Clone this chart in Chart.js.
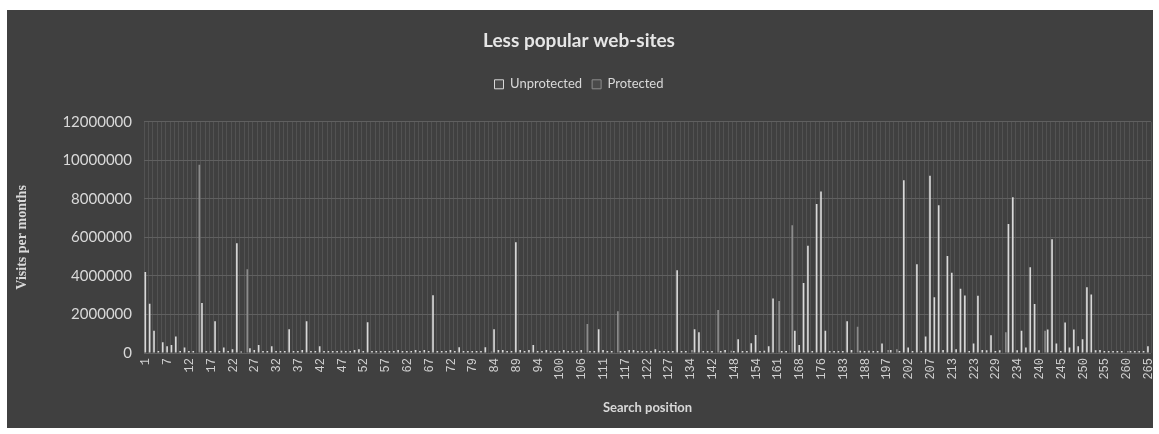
<!DOCTYPE html>
<html>
<head>
<meta charset="utf-8">
<title>Less popular web-sites</title>
<script src="https://cdn.jsdelivr.net/npm/chart.js@4.4.1/dist/chart.umd.min.js"></script>
<style>
  html, body { margin: 0; padding: 0; background: #ffffff; }
  #wrap { position: absolute; left: 7px; top: 10px; width: 1146px; height: 418px; background: #404040; }
</style>
</head>
<body>
<div id="wrap"><canvas id="chart"></canvas></div>
<script>
// search positions shown on the x axis (some positions are missing in the source)
const positions = [
  1, 2, 3, 5, 6, 7, 8, 9, 10, 11, 12, 13, 14, 15, 16, 17, 18, 19, 20, 21,
  22, 23, 24, 25, 26, 27, 28, 29, 30, 31, 32, 33, 34, 35, 36, 37, 38, 39, 40, 41,
  42, 43, 44, 45, 46, 47, 48, 49, 50, 51, 52, 53, 54, 55, 56, 57, 58, 59, 60, 61,
  62, 63, 64, 65, 66, 67, 68, 69, 70, 71, 72, 73, 74, 76, 77, 79, 80, 81, 82, 83,
  84, 85, 86, 87, 88, 89, 90, 91, 92, 93, 94, 95, 96, 98, 99, 100, 101, 102, 104, 105,
  106, 107, 108, 109, 110, 111, 112, 113, 115, 116, 117, 118, 119, 120, 121, 122, 123, 124, 125, 126,
  127, 128, 129, 131, 133, 134, 135, 137, 139, 141, 142, 143, 144, 146, 147, 148, 149, 150, 152, 153,
  154, 155, 156, 158, 160, 161, 162, 164, 165, 167, 168, 169, 171, 173, 175, 176, 177, 179, 180, 182,
  183, 184, 185, 186, 187, 188, 189, 191, 193, 196, 197, 198, 199, 200, 201, 202, 203, 204, 205, 206,
  207, 208, 209, 211, 212, 213, 214, 217, 220, 222, 223, 224, 225, 227, 228, 229, 230, 231, 232, 233,
  234, 235, 236, 238, 239, 240, 241, 242, 243, 244, 245, 246, 247, 248, 249, 250, 251, 252, 253, 254,
  255, 256, 257, 258, 259, 260, 261, 262, 263, 264, 265
];

// visits per month
const unprotected = [
  4200000, 2550000, 1150000, 100000, 560000, 350000, 420000, 850000, 100000, 280000,
  100000, 100000, null, 2600000, 100000, 100000, 1650000, 100000, 280000, 100000,
  200000, 5700000, 80000, null, 250000, 150000, 420000, 100000, 100000, 350000,
  100000, 100000, 100000, 1230000, 100000, 100000, 150000, 1650000, 100000, 100000,
  350000, 100000, 100000, 100000, 100000, 120000, 100000, 100000, 150000, 200000,
  100000, 1600000, 100000, 100000, 100000, 100000, 100000, 100000, 150000, 100000,
  100000, 100000, 150000, 100000, 150000, 100000, 3000000, 100000, 100000, 100000,
  150000, 100000, 300000, 100000, 100000, 100000, 100000, 100000, 300000, null,
  1230000, 150000, 150000, 100000, 100000, 5750000, 150000, 100000, 150000, 420000,
  100000, 100000, 150000, 100000, 100000, 100000, 150000, 100000, 100000, 100000,
  150000, null, 100000, 100000, 1230000, 150000, 100000, 100000, null, 100000,
  100000, 150000, 150000, 100000, 100000, 100000, 100000, 200000, 100000, 100000,
  100000, 100000, 4300000, 100000, 100000, null, 1230000, 1080000, 100000, 100000,
  100000, null, 100000, 150000, null, 100000, 710000, 100000, 100000, 500000,
  940000, 100000, 120000, 350000, 2830000, null, 100000, 100000, null, 1150000,
  420000, 3630000, 5570000, 100000, 7740000, 8380000, 1150000, 100000, 100000, 100000,
  100000, 1650000, 150000, null, 120000, 100000, 120000, 100000, 100000, 490000,
  null, 150000, null, 100000, 8970000, 280000, 100000, 4600000, 100000, 850000,
  9200000, 2900000, 7670000, 150000, 5030000, 4160000, 190000, 3340000, 2990000, 100000,
  490000, 2970000, 150000, 140000, 920000, 100000, 140000, null, 6700000, 8090000,
  140000, 1150000, 280000, 4450000, 2540000, 140000, null, 1220000, 5900000, 490000,
  100000, 1580000, 280000, 1220000, 350000, 710000, 3410000, 3040000, 140000, 150000,
  100000, 100000, 100000, 100000, 100000, null, 100000, 100000, 100000, 100000,
  350000
];

const protectedVisits = [
  null, null, null, null, null, null, null, null, null, null,
  null, null, 9770000, null, null, null, null, null, null, null,
  null, null, null, 4350000, null, null, null, null, null, null,
  null, null, null, null, null, null, null, null, null, null,
  null, null, null, null, null, null, null, null, null, null,
  null, null, null, null, null, null, null, null, null, null,
  null, null, null, null, null, null, null, null, null, null,
  null, null, null, null, null, null, null, null, null, 80000,
  null, null, null, null, null, null, null, null, null, null,
  null, null, null, null, null, null, null, null, null, null,
  null, 1500000, null, null, null, null, null, null, 2170000, null,
  null, null, null, null, null, null, null, null, null, null,
  null, null, null, null, null, 150000, null, null, null, null,
  null, 2230000, null, null, 120000, null, null, null, null, null,
  null, null, null, null, null, 2700000, null, null, 6630000, null,
  null, null, null, null, null, null, null, null, null, null,
  null, null, null, 1360000, null, null, null, null, null, null,
  150000, null, 190000, null, null, null, null, null, null, null,
  null, null, null, null, null, null, null, null, null, null,
  null, null, null, null, null, null, null, 1080000, null, null,
  null, null, null, null, null, null, 1150000, null, null, null,
  null, null, null, null, null, null, null, null, null, null,
  null, null, null, null, null, 100000, null, null, null, null,
  null
];

const yMax = 12000000;
const yStep = 2000000;
const labelEvery = 5;

// leave a gap under the legend, like the original
const legendGap = {
  id: "legendGap",
  beforeInit(chart) {
    const fit = chart.legend.fit;
    chart.legend.fit = function () {
      fit.bind(chart.legend)();
      this.height += 21;
    };
  },
};

Chart.defaults.font.family = "Lato, 'Noto Sans', sans-serif";
Chart.defaults.color = "#d9d9d9";

new Chart(document.getElementById("chart"), {
  type: "bar",
  data: {
    labels: positions.map(String),
    datasets: [
      {
        label: "Unprotected",
        data: unprotected,
        backgroundColor: "#d9d9d9",
        borderWidth: 0,
      },
      {
        label: "Protected",
        data: protectedVisits,
        backgroundColor: "#8c8c8c",
        borderWidth: 0,
      },
    ],
  },
  options: {
    responsive: true,
    maintainAspectRatio: false,
    animation: false,
    datasets: { bar: { categoryPercentage: 0.8, barPercentage: 0.95 } },
    layout: { padding: { right: 2 } },
    plugins: {
      tooltip: { enabled: false },
      title: {
        display: true,
        text: "Less popular web-sites",
        color: "#e6e6e6",
        font: { size: 19, weight: "bold" },
        padding: { top: 19, bottom: 16 },
      },
      legend: {
        display: true,
        labels: {
          color: "#d9d9d9",
          font: { size: 13 },
          boxWidth: 9,
          boxHeight: 9,
          padding: 10,
          // hollow squares, as in the original legend
          generateLabels: (chart) =>
            chart.data.datasets.map((ds, i) => ({
              text: ds.label,
              fillStyle: "#4a4a4a",
              strokeStyle: ds.backgroundColor,
              lineWidth: 1,
              fontColor: "#d9d9d9",
              hidden: !chart.isDatasetVisible(i),
              datasetIndex: i,
            })),
        },
      },
    },
    scales: {
      x: {
        grid: { color: "#525252", drawTicks: false, offset: true },
        border: { display: false },
        ticks: {
          autoSkip: false,
          minRotation: 90,
          maxRotation: 90,
          padding: 5,
          color: "#d0d0d0",
          font: { family: "'Liberation Mono', monospace", size: 12 },
          callback: (val, idx) => (idx % labelEvery === 0 ? positions[idx] : ""),
        },
        title: {
          display: true,
          text: "Search position",
          color: "#d9d9d9",
          font: { size: 13, weight: "bold" },
          padding: { top: 0, bottom: 12 },
        },
        afterFit(scale) {
          scale.height = 75;
          scale.paddingLeft = 0;
          scale.paddingRight = 0;
        },
      },
      y: {
        min: 0,
        max: yMax,
        grid: { color: "#606060", drawTicks: false },
        border: { display: false },
        ticks: {
          stepSize: yStep,
          padding: 12,
          color: "#d9d9d9",
          font: { size: 15 },
          callback: (val) => String(val),
        },
        title: {
          display: true,
          text: "Visits per months",
          color: "#d9d9d9",
          font: { family: "'Liberation Serif', serif", size: 14, weight: "bold" },
          padding: { top: 7, bottom: 0 },
        },
        afterFit(scale) {
          scale.width = 137;
        },
      },
    },
  },
  plugins: [legendGap],
});
</script>
</body>
</html>
